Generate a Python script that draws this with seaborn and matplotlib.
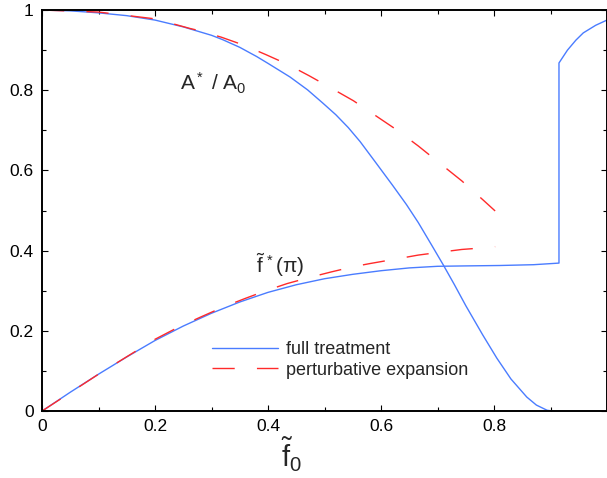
import numpy as np
import pandas as pd
import matplotlib
matplotlib.use("Agg")
import matplotlib.pyplot as plt
import seaborn as sns
from matplotlib.ticker import MultipleLocator

# Amplitude ratio A*/A0, full treatment
amp_full_x = [0.0, 0.05, 0.1, 0.15, 0.2, 0.25, 0.3, 0.32, 0.35, 0.38, 0.4, 0.439, 0.47,
              0.497, 0.52, 0.542, 0.563, 0.59, 0.621, 0.645, 0.666, 0.69, 0.71, 0.73,
              0.75, 0.78, 0.805, 0.83, 0.858, 0.875, 0.894, 0.905]
amp_full_y = [1.0, 0.998, 0.993, 0.986, 0.975, 0.958, 0.937, 0.926, 0.907, 0.884, 0.867,
              0.833, 0.801, 0.768, 0.739, 0.707, 0.672, 0.621, 0.562, 0.515, 0.470, 0.413,
              0.365, 0.315, 0.263, 0.190, 0.132, 0.080, 0.035, 0.015, 0.002, 0.0]

# Amplitude ratio A*/A0, perturbative expansion
amp_pert_x = [0.0, 0.1, 0.2, 0.262, 0.28, 0.318, 0.356, 0.396, 0.434, 0.473, 0.511,
              0.551, 0.588, 0.628, 0.666, 0.704, 0.743, 0.781, 0.802]
amp_pert_y = [1.0, 0.995, 0.978, 0.954, 0.948, 0.932, 0.913, 0.889, 0.865, 0.836, 0.806,
              0.774, 0.739, 0.701, 0.661, 0.618, 0.574, 0.526, 0.499]

# f*(pi), full treatment (with the jump near f0 = 0.915)
f_full_x = [0.0, 0.05, 0.1, 0.15, 0.2, 0.25, 0.3, 0.35, 0.4, 0.45, 0.5, 0.55, 0.6,
            0.65, 0.7, 0.75, 0.81, 0.87, 0.915, 0.915, 0.93, 0.945, 0.958, 0.98, 1.0]
f_full_y = [0.0, 0.047, 0.092, 0.135, 0.176, 0.212, 0.244, 0.272, 0.296, 0.315, 0.330,
            0.341, 0.350, 0.357, 0.361, 0.362, 0.363, 0.365, 0.369, 0.868, 0.900, 0.925,
            0.943, 0.962, 0.975]

# f*(pi), perturbative expansion
f_pert_x = [0.0, 0.1, 0.2, 0.241, 0.280, 0.320, 0.358, 0.396, 0.434, 0.473, 0.512,
            0.551, 0.581, 0.634, 0.666, 0.704, 0.743, 0.781, 0.802]
f_pert_y = [0.0, 0.092, 0.179, 0.209, 0.234, 0.259, 0.280, 0.300, 0.318, 0.333, 0.347,
            0.360, 0.368, 0.381, 0.389, 0.396, 0.403, 0.407, 0.410]

x_ticks = [0, 0.2, 0.4, 0.6, 0.8]
x_tick_labels = ["0", "0.2", "0.4", "0.6", "0.8"]
y_ticks = [0, 0.2, 0.4, 0.6, 0.8, 1.0]
y_tick_labels = ["0", "0.2", "0.4", "0.6", "0.8", "1"]

sns.set_style("ticks")
plt.rcParams["font.family"] = ["Liberation Sans", "DejaVu Sans"]
plt.rcParams["mathtext.fontset"] = "custom"
plt.rcParams["mathtext.rm"] = "Liberation Sans"
plt.rcParams["mathtext.it"] = "Liberation Sans"
plt.rcParams["mathtext.default"] = "regular"

BLUE = "#4a7cff"
RED = "#ff2a2a"

fig = plt.figure(figsize=(6.07, 4.78), dpi=100)
ax = fig.add_axes([0.0692, 0.140, 0.9308, 0.839])

def curve(xs, ys):
    return pd.DataFrame({"x": xs, "y": ys})

sns.lineplot(data=curve(amp_full_x, amp_full_y), x="x", y="y", ax=ax,
             estimator=None, sort=False, color=BLUE, lw=1.0, label="full treatment")
sns.lineplot(data=curve(f_full_x, f_full_y), x="x", y="y", ax=ax,
             estimator=None, sort=False, color=BLUE, lw=1.0, label="_nolegend_")
sns.lineplot(data=curve(amp_pert_x, amp_pert_y), x="x", y="y", ax=ax,
             estimator=None, sort=False, color=RED, lw=1.0,
             label="perturbative expansion")
sns.lineplot(data=curve(f_pert_x, f_pert_y), x="x", y="y", ax=ax,
             estimator=None, sort=False, color=RED, lw=1.0, label="_nolegend_")

for ln in ax.lines[2:]:
    ln.set_dashes((16, 16))

ax.set_xlim(0, 1.0)
ax.set_ylim(0, 1.0)
ax.set_xticks(x_ticks)
ax.set_xticklabels(x_tick_labels)
ax.set_yticks(y_ticks)
ax.set_yticklabels(y_tick_labels)
ax.xaxis.set_minor_locator(MultipleLocator(0.1))
ax.yaxis.set_minor_locator(MultipleLocator(0.1))
ax.tick_params(which="both", direction="in", top=True, right=True,
               labelsize=12.5, colors="black")
ax.tick_params(which="major", length=4, width=0.8, pad=6)
ax.tick_params(which="minor", length=3, width=0.8)
for s in ax.spines.values():
    s.set_linewidth(1.4)
    s.set_color("black")

ax.set_ylabel("")
ax.set_xlabel(r"$\tilde{f}_0$", fontsize=21)
ax.xaxis.set_label_coords(0.442, -0.062)

ax.text(0.244, 0.80, r"A$^*$ / A$_0$", fontsize=15)
ax.text(0.378, 0.345, r"$\tilde{f}^{\,*}(\pi)$", fontsize=15)

leg = ax.legend(loc="upper left", bbox_to_anchor=(0.30, 0.175), frameon=False,
                fontsize=13, handlelength=3.7, handletextpad=0.45,
                labelspacing=0.2, borderpad=0, borderaxespad=0)

fig.savefig("out.png", dpi=100)
